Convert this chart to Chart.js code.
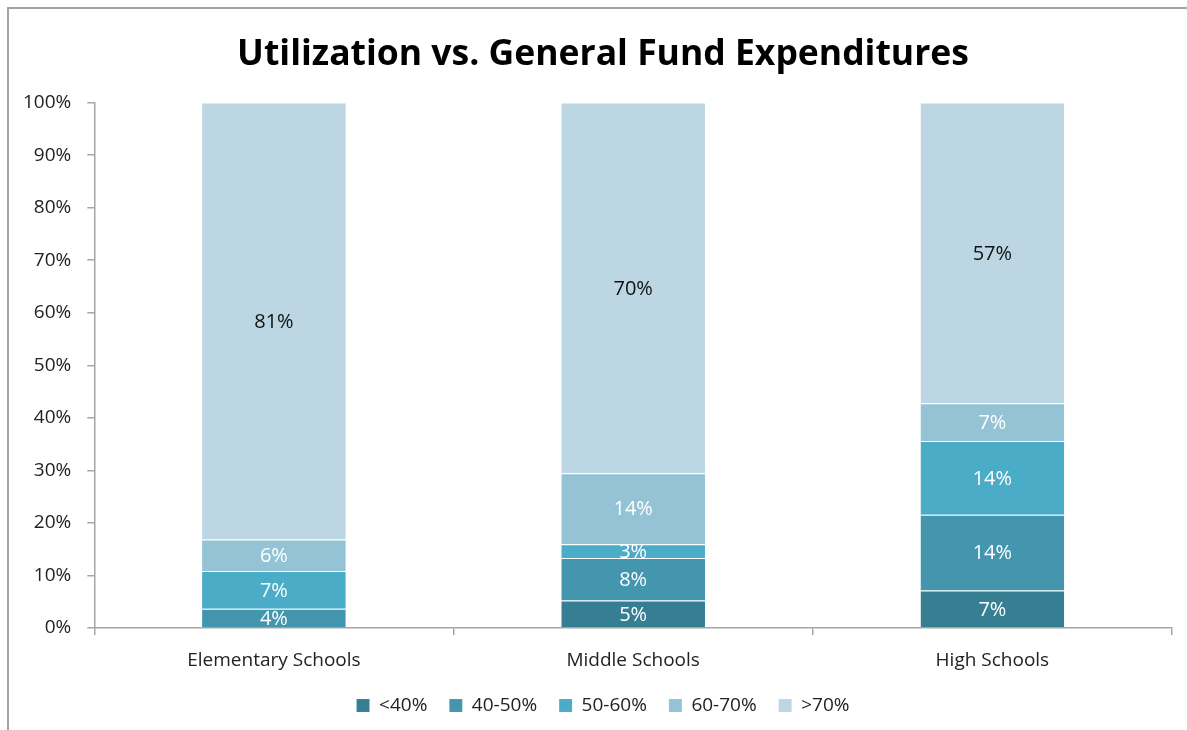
<!DOCTYPE html>
<html>
<head>
<meta charset="utf-8">
<script src="https://cdn.jsdelivr.net/npm/chart.js@4.4.1/dist/chart.umd.min.js"></script>
<style>
  body { margin: 0; background: #fff; }
  #frame { position: absolute; left: 7px; top: 7px; width: 1400px; height: 900px; border: 2px solid #a3a3a3; }
  #wrap { position: absolute; left: 0; top: 0; width: 1187px; height: 730px; }
</style>
</head>
<body>
<div id="frame"></div>
<div id="wrap"><canvas id="myChart"></canvas></div>
<script>
// school types on the x axis
var schools = ["Elementary Schools", "Middle Schools", "High Schools"];

// share of general fund expenditures by utilization band (percent)
var under40 = [0, 5.2, 7.1];
var util40to50 = [3.6, 8.1, 14.4];
var util50to60 = [7.0, 2.6, 14.0];
var util60to70 = [5.9, 13.5, 7.2];
var over70 = [81.4, 70.4, 57.1];

var bandNames = ["<40%", "40-50%", "50-60%", "60-70%", ">70%"];
var bandColors = ["#367f93", "#4396ae", "#4aacc6", "#93c3d5", "#bcd7e3"];
var labelColors = ["#fff", "#fff", "#fff", "#fff", "#111"];

var yTicks = [0, 10, 20, 30, 40, 50, 60, 70, 80, 90, 100];

var FONT = "'Open Sans', 'Noto Sans', sans-serif";

var rawSeries = [under40, util40to50, util50to60, util60to70, over70];

// 100% stacked, like the excel chart
function toShares(series) {
    var out = [];
    for (let s = 0; s < series.length; s++) {
        let row = [];
        for (let i = 0; i < schools.length; i++) {
            let total = 0;
            for (let k = 0; k < series.length; k++) total += series[k][i];
            row.push(series[s][i] / total * 100);
        }
        out.push(row);
    }
    return out;
}

var shares = toShares(rawSeries);

var datasets = [];
for (let s = 0; s < bandNames.length; s++) {
    datasets.push({
        label: bandNames[s],
        data: shares[s],
        raw: rawSeries[s],
        backgroundColor: bandColors[s],
        borderColor: "rgba(255,255,255,0.35)",
        borderWidth: { top: 1, bottom: 0, left: 0, right: 0 },
        barPercentage: 0.4,
        categoryPercentage: 1.0
    });
}

// draws the value labels in the middle of each segment
var segmentLabels = {
    id: "segmentLabels",
    afterLayout: function (chart) {
        // excel centres title + legend on the whole frame, not the plot
        chart.titleBlock.left += 27;
        chart.legend.left += 27;
        chart.legend.top -= 4;
        chart.legend.bottom -= 4;
    },
    afterDatasetsDraw: function (chart) {
        var ctx = chart.ctx;
        ctx.save();
        ctx.font = "20px " + FONT;
        ctx.textAlign = "center";
        ctx.textBaseline = "middle";
        chart.data.datasets.forEach(function (ds, di) {
            var meta = chart.getDatasetMeta(di);
            meta.data.forEach(function (bar, i) {
                var v = ds.raw[i];
                if (!v) return;
                ctx.fillStyle = labelColors[di];
                ctx.fillText(Math.round(v) + "%", bar.x, (bar.y + bar.base) / 2 + 1);
            });
        });
        ctx.restore();
    }
};

const ctx = document.getElementById("myChart").getContext("2d");
var myChart = new Chart(ctx, {
    type: "bar",
    data: {
        labels: schools,
        datasets: datasets
    },
    options: {
        responsive: true,
        maintainAspectRatio: false,
        animation: false,
        layout: { padding: { left: 7, right: 15, top: 30, bottom: 1 } },
        scales: {
            x: {
                stacked: true,
                offset: true,
                afterFit: function (axis) {
                    axis.height = 50;
                },
                border: { color: "#a6a6a6", width: 1.5 },
                grid: { offset: true, drawOnChartArea: false, drawTicks: true, tickLength: 7, color: "#a6a6a6", lineWidth: 1.5 },
                ticks: { color: "#222", font: { family: FONT, size: 19 }, padding: 14 }
            },
            y: {
                stacked: true,
                min: 0,
                max: 100,
                afterBuildTicks: function (axis) {
                    axis.ticks = yTicks.map(function (v) { return { value: v }; });
                },
                border: { color: "#a6a6a6", width: 1.5 },
                grid: { drawOnChartArea: false, drawTicks: true, tickLength: 7, color: "#a6a6a6", lineWidth: 1.5 },
                ticks: {
                    color: "#222",
                    font: { family: FONT, size: 19 },
                    padding: 16,
                    callback: function (v) { return v + "%"; }
                }
            }
        },
        plugins: {
            title: {
                display: true,
                text: "Utilization vs. General Fund Expenditures",
                color: "#000",
                font: { family: FONT, size: 35.5, weight: "bold" },
                padding: { top: 4, bottom: 26 }
            },
            legend: {
                position: "bottom",
                labels: {
                    color: "#222",
                    font: { family: FONT, size: 19 },
                    boxWidth: 13,
                    boxHeight: 13,
                    padding: 22
                }
            },
            tooltip: { enabled: false }
        }
    },
    plugins: [segmentLabels]
});
</script>
</body>
</html>
